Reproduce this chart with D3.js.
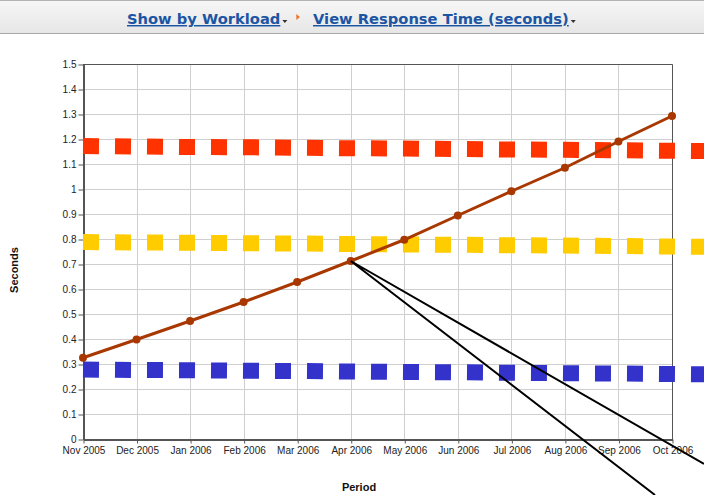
<!DOCTYPE html>
<html>
<head>
<meta charset="utf-8">
<script src="https://cdn.jsdelivr.net/npm/d3@7"></script>
<style>
body { margin: 0; background: #fff; overflow: hidden; }
svg { display: block; }
</style>
</head>
<body>
<svg id="chart" width="704" height="495"></svg>
<script>
// data
var periods = ["Nov 2005", "Dec 2005", "Jan 2006", "Feb 2006", "Mar 2006", "Apr 2006",
	"May 2006", "Jun 2006", "Jul 2006", "Aug 2006", "Sep 2006", "Oct 2006"];
var yTicks = [0, 0.1, 0.2, 0.3, 0.4, 0.5, 0.6, 0.7, 0.8, 0.9, 1, 1.1, 1.2, 1.3, 1.4, 1.5];
var responseTime = [0.325, 0.398, 0.472, 0.548, 0.628, 0.712, 0.797, 0.894, 0.991, 1.085, 1.19, 1.292];
// threshold bands run one period past the axis
var redBand = [1.172, 1.170, 1.168, 1.167, 1.165, 1.163, 1.162, 1.160, 1.158, 1.157, 1.155, 1.153, 1.151];
var yellowBand = [0.788, 0.786, 0.785, 0.783, 0.782, 0.780, 0.778, 0.777, 0.775, 0.774, 0.772, 0.770, 0.768];
var blueBand = [0.278, 0.276, 0.275, 0.273, 0.272, 0.270, 0.268, 0.267, 0.265, 0.263, 0.262, 0.260, 0.258];

var svg = d3.select("#chart");
var plotLeft = 83, plotRight = 672, plotTop = 64, plotBottom = 439;

/*
 * header bar
 */
var grad = svg.append("defs").append("linearGradient")
	.attr("id", "hdr").attr("x1", 0).attr("y1", 0).attr("x2", 0).attr("y2", 1);
grad.append("stop").attr("offset", "0%").attr("stop-color", "#f7f7f7");
grad.append("stop").attr("offset", "100%").attr("stop-color", "#e6e6e6");

svg.append("rect").attr("x", 0).attr("y", 0).attr("width", 704).attr("height", 34)
	.attr("fill", "url(#hdr)");
svg.append("line").attr("x1", 0).attr("x2", 704).attr("y1", 0.5).attr("y2", 0.5)
	.attr("stroke", "#b4b4b4");
svg.append("line").attr("x1", 0).attr("x2", 704).attr("y1", 33.5).attr("y2", 33.5)
	.attr("stroke", "#a8a8a8");

var hdr = svg.append("g").attr("font-family", "DejaVu Sans, Verdana, sans-serif")
	.attr("font-weight", "bold").attr("font-size", 14.7).attr("fill", "#1c55a3");
var t1 = hdr.append("text").attr("x", 127).attr("y", 24)
	.attr("text-decoration", "underline").text("Show by Workload");
var w1 = t1.node().getComputedTextLength();
hdr.append("path").attr("d", "M" + (127 + w1 + 2) + ",20 l5,0 l-2.5,3 z").attr("fill", "#333");
hdr.append("path").attr("d", "M" + (127 + w1 + 16) + ",14 l0,6 l3.5,-3 z").attr("fill", "#f07020");
var t2 = hdr.append("text").attr("x", 313).attr("y", 24)
	.attr("text-decoration", "underline").text("View Response Time (seconds)");
var w2 = t2.node().getComputedTextLength();
hdr.append("path").attr("d", "M" + (313 + w2 + 2) + ",20 l5,0 l-2.5,3 z").attr("fill", "#333");

/*
 * scales
 */
var x = d3.scaleLinear().domain([0, periods.length - 1]).range([plotLeft, plotRight]);
var y = d3.scaleLinear().domain([0, 1.5]).range([plotBottom, plotTop]);

// grid
var grid = svg.append("g").attr("stroke", "#cfcfcf").attr("stroke-width", 1);
grid.selectAll(".hg").data(yTicks.slice(1)).enter().append("line")
	.attr("x1", plotLeft).attr("x2", plotRight)
	.attr("y1", function(d) { return Math.round(y(d)) + 0.5; })
	.attr("y2", function(d) { return Math.round(y(d)) + 0.5; });
grid.selectAll(".vg").data(periods.slice(1)).enter().append("line")
	.attr("y1", plotTop).attr("y2", plotBottom)
	.attr("x1", function(d, i) { return Math.round(x(i + 1)) + 0.5; })
	.attr("x2", function(d, i) { return Math.round(x(i + 1)) + 0.5; });

// frame top/right
svg.append("path")
	.attr("d", "M" + plotLeft + "," + (plotTop + 0.5) + "H" + (plotRight + 0.5) + "V" + plotBottom)
	.attr("fill", "none").attr("stroke", "#555");

// axes
var yAxis = d3.axisLeft(y).tickValues(yTicks).tickSize(5).tickSizeOuter(0)
	.tickFormat(function(d) { return d3.format("~g")(d); });
var gy = svg.append("g").attr("transform", "translate(" + (plotLeft + 0.5) + ",0.5)").call(yAxis);
var xAxis = d3.axisBottom(x).tickValues(d3.range(periods.length)).tickSize(4).tickSizeOuter(0)
	.tickFormat(function(i) { return periods[i]; });
var gx = svg.append("g").attr("transform", "translate(0.5," + (plotBottom + 0.5) + ")").call(xAxis);

[gx, gy].forEach(function(g) {
	g.select(".domain").attr("stroke", "#555").attr("stroke-width", 2);
	g.selectAll(".tick line").attr("stroke", "#555");
	g.selectAll("text").attr("font-family", "Liberation Sans, Arial, sans-serif")
		.attr("font-size", 10).attr("fill", "#222");
});
gy.selectAll("text").attr("x", -7);
gx.selectAll("text").attr("y", 7);

// axis titles
svg.append("text").attr("x", 359).attr("y", 491).attr("text-anchor", "middle")
	.attr("font-family", "Liberation Sans, Arial, sans-serif").attr("font-weight", "bold")
	.attr("font-size", 11).attr("fill", "#111").text("Period");
svg.append("text").attr("transform", "translate(18,270) rotate(-90)").attr("text-anchor", "middle")
	.attr("font-family", "Liberation Sans, Arial, sans-serif").attr("font-weight", "bold")
	.attr("font-size", 11).attr("fill", "#111").text("Seconds");

/*
 * threshold bands drawn as square dashes
 */
var line = d3.line().x(function(d, i) { return x(i); }).y(function(d) { return y(d); });
[[redBand, "#ff3300"], [yellowBand, "#ffcc00"], [blueBand, "#3333cc"]].forEach(function(b) {
	svg.append("path").datum(b[0]).attr("d", line)
		.attr("fill", "none").attr("stroke", b[1]).attr("stroke-width", 16)
		.attr("stroke-dasharray", "16,16");
});

// response time line
svg.append("path").datum(responseTime).attr("d", line)
	.attr("fill", "none").attr("stroke", "#a83800").attr("stroke-width", 3);
svg.selectAll(".pt").data(responseTime).enter().append("circle")
	.attr("cx", function(d, i) { return x(i); })
	.attr("cy", function(d) { return y(d); })
	.attr("r", 4).attr("fill", "#a83800");

// callout lines from the Apr 2006 point
var ax = x(5), ay = y(responseTime[5]);
svg.append("path")
	.attr("d", "M" + ax + "," + ay + "L655,495M" + ax + "," + ay + "L704,464")
	.attr("fill", "none").attr("stroke", "#000").attr("stroke-width", 2);
</script>
</body>
</html>
